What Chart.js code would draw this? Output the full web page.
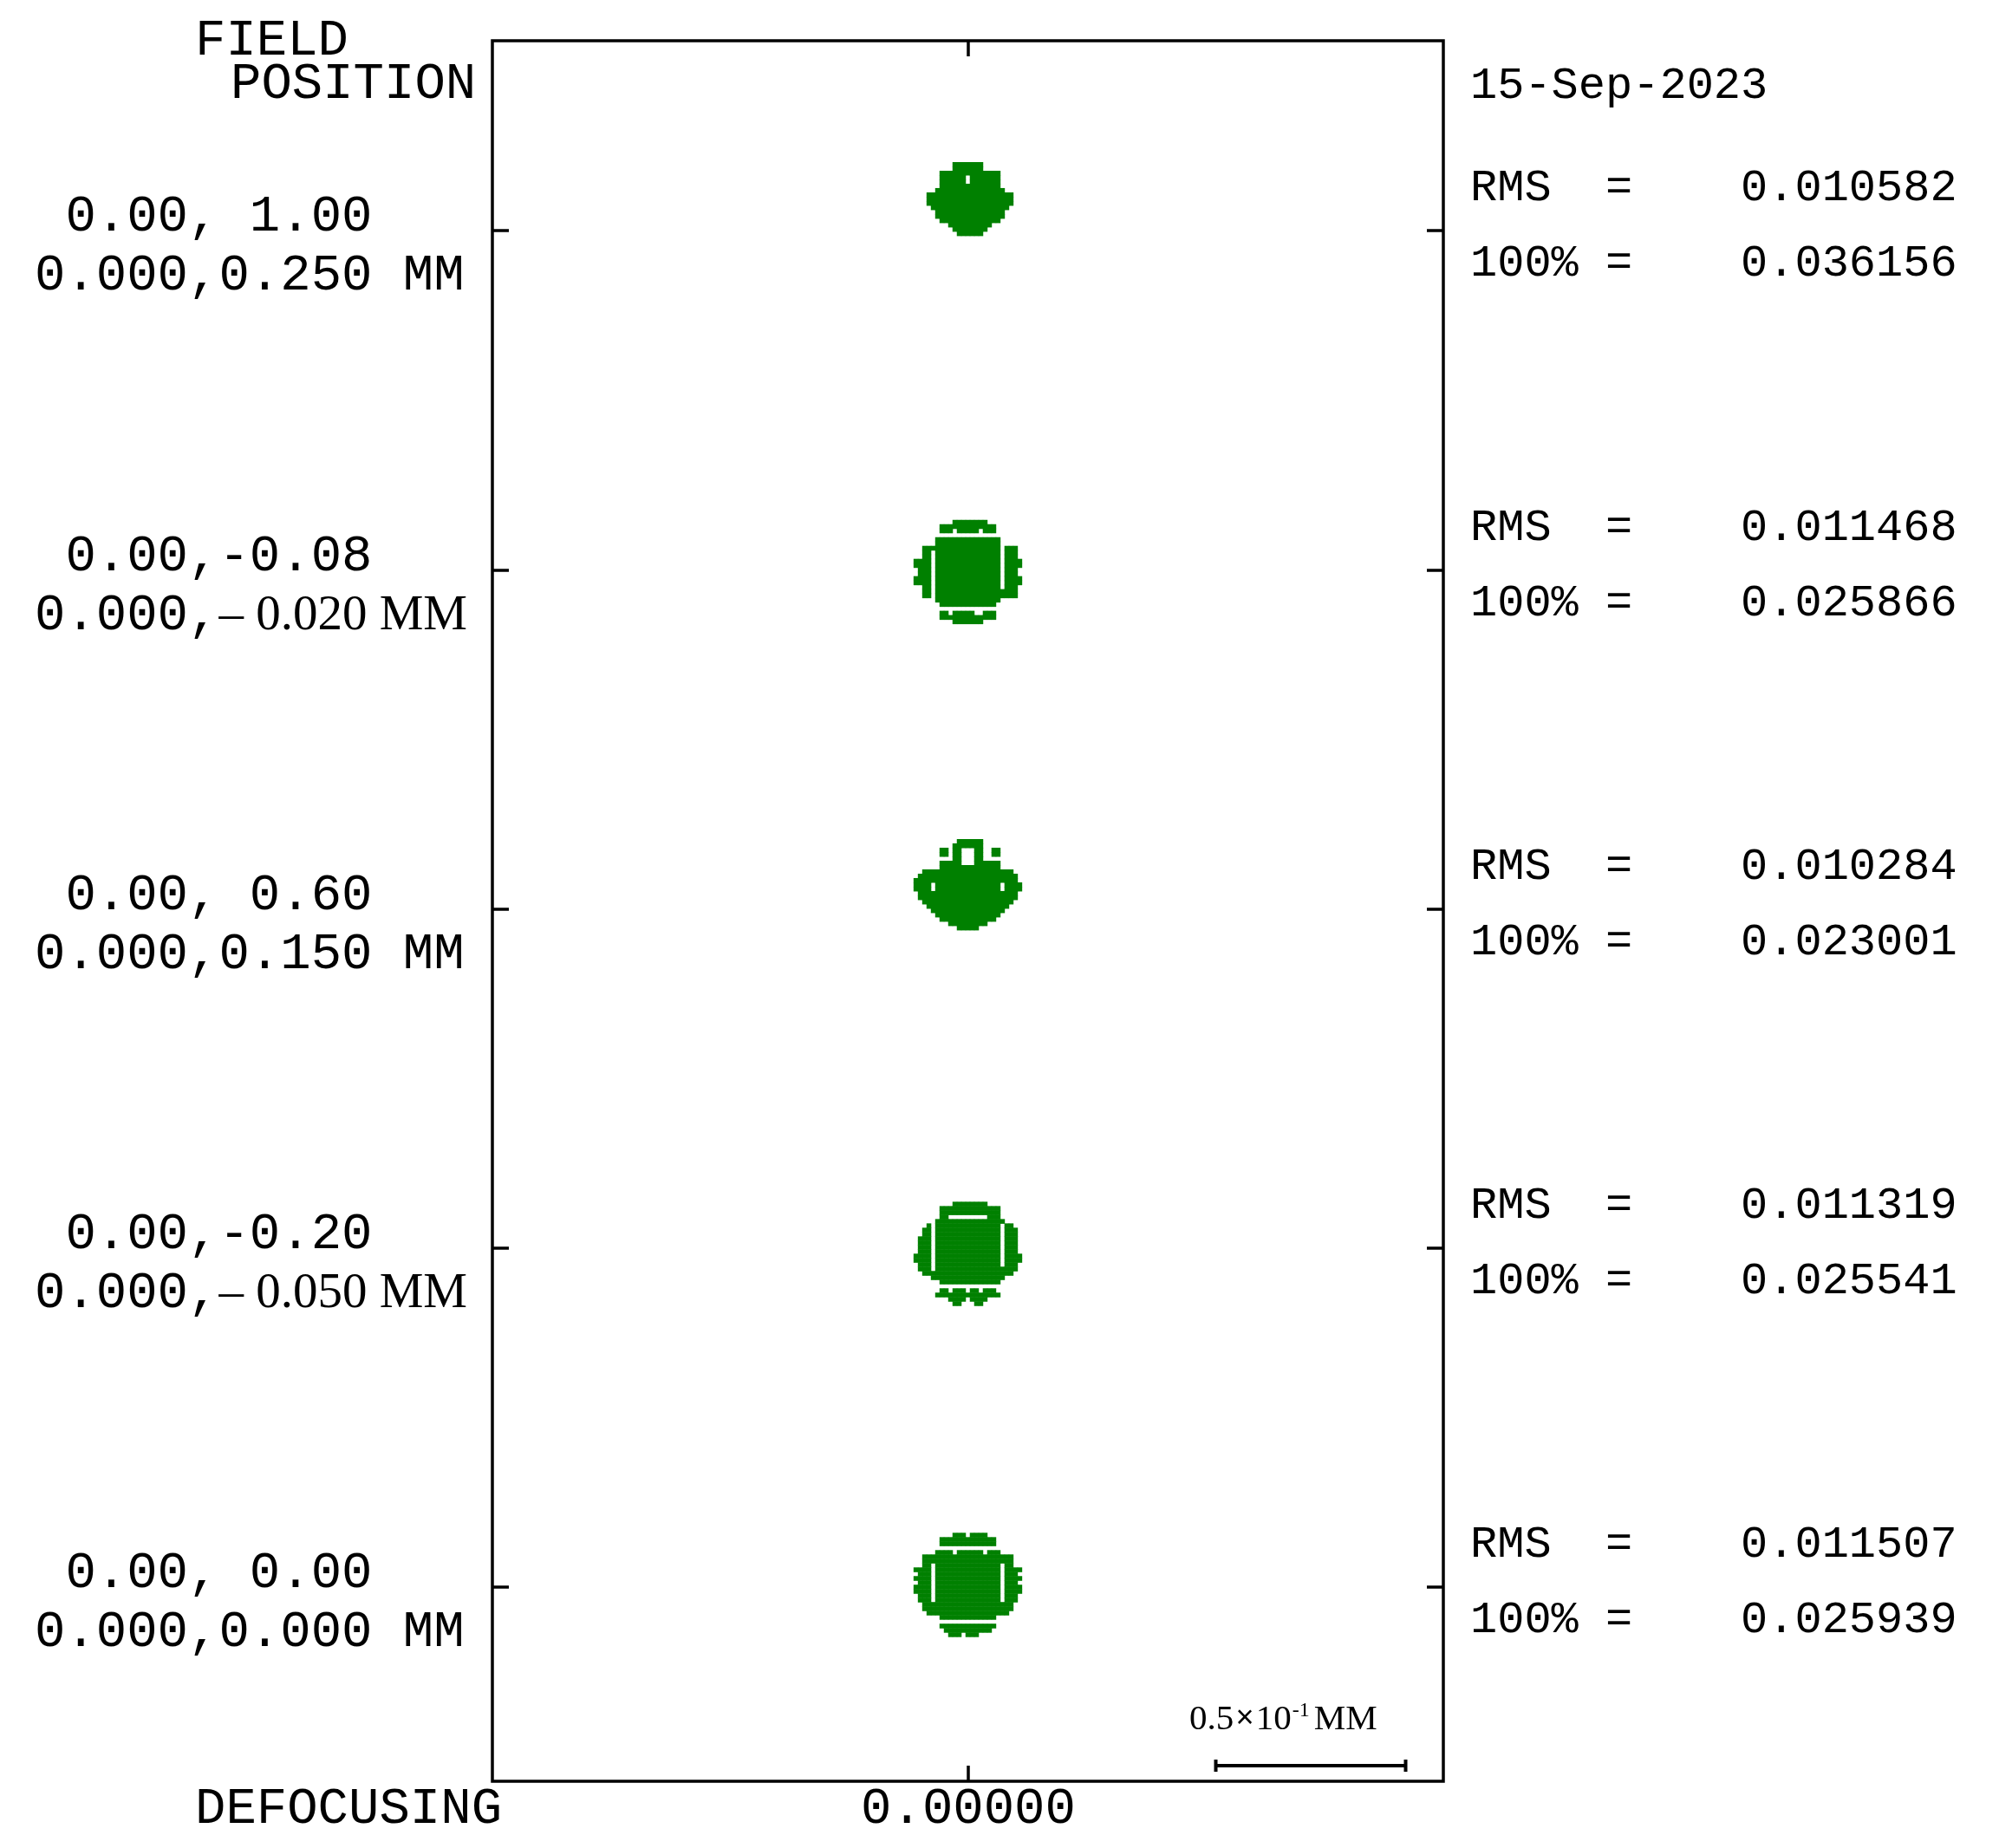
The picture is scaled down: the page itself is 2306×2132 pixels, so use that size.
<!DOCTYPE html>
<html>
<head>
<meta charset="utf-8">
<script src="https://cdn.jsdelivr.net/npm/chart.js@4.4.1/dist/chart.umd.min.js"></script>
<style>
  html, body { margin: 0; padding: 0; background: #fff; }
  #wrap { width: 2306px; height: 2132px; }
</style>
</head>
<body>
<div id="wrap"><canvas id="spotCanvas" width="2306" height="2132"></canvas></div>
<script>
// Field positions (top to bottom) and their image heights
const fieldLabels = [' 0.00, 1.00', ' 0.00,-0.08', ' 0.00, 0.60', ' 0.00,-0.20', ' 0.00, 0.00'];
const imageMono = ['0.000,0.250 MM', '0.000,', '0.000,0.150 MM', '0.000,', '0.000,0.000 MM'];
const imageSerif = ['', '\u2013 0.020 MM', '', '\u2013 0.050 MM', ''];

// Spot statistics printed on the right
const rmsValues = ['0.010582', '0.011468', '0.010284', '0.011319', '0.011507'];
const fullValues = ['0.036156', '0.025866', '0.023001', '0.025541', '0.025939'];
const plotDate = '15-Sep-2023';
const defocusValue = '0.00000';

// Chief ray offset of each spot centre from its field row (mm)
const spotOffsetY = [0.0084, -0.0011, 0.0064, -0.0021, 0.0];

// Spot footprints, one cell per ray pixel
const spot1 = [
  '.........................',
  '.........................',
  '.........................',
  '.........................',
  '.........#######.........',
  '.........#######.........',
  '......##############.....',
  '......######.#######.....',
  '......######.#######.....',
  '......##############.....',
  '.....################....',
  '...####################..',
  '...####################..',
  '...####################..',
  '....##################...',
  '.....################....',
  '.....################....',
  '......##############.....',
  '........##########.......',
  '.........########........',
  '..........######.........'
];
const spot2 = [
  '.........########........',
  '......#############......',
  '......###.#####.###......',
  '.........................',
  '.....###############.....',
  '.....###############.....',
  '..##################.###.',
  '..##.###############.###.',
  '..##.###############.###.',
  '####.###############.####',
  '####.###############.####',
  '.###.###############.###.',
  '.###.###############.###.',
  '####.###############.####',
  '####.###############.####',
  '..##.###############.###.',
  '..##.###################.',
  '..##.###################.',
  '.....###############.....',
  '......#############......',
  '.........................',
  '......##.#####..###......',
  '......#############......',
  '.........#######.........'
];
const spot3 = [
  '.........................',
  '.........................',
  '..........######.........',
  '.........#######.........',
  '......##.##...##..##.....',
  '......##.##...##..##.....',
  '.........##...##.........',
  '......#####...######.....',
  '......##############.....',
  '..#####################..',
  '.#######################.',
  '########################.',
  '####.###############.####',
  '####.###############.####',
  '.#######################.',
  '.#######################.',
  '..#####################..',
  '...###################...',
  '....#################....',
  '.....###############.....',
  '......#############......',
  '........#########........',
  '..........#####..........'
];
const spot4 = [
  '.........########........',
  '......##############.....',
  '......##############.....',
  '......##.........###.....',
  '.....################....',
  '...#.###############.##..',
  '..##.###############.###.',
  '..##.###############.###.',
  '.###.###############.###.',
  '.###.###############.###.',
  '.###.###############.###.',
  '.###.###############.###.',
  '####.###############.####',
  '####.###############.####',
  '.###.###############.###.',
  '.###.###################.',
  '..#####################..',
  '....#################....',
  '......##############.....',
  '.........................',
  '......##.###.##.###......',
  '.....###############.....',
  '........####.####........',
  '.........##...##.........'
];
const spot5 = [
  '.........###.####........',
  '......#############......',
  '......#############......',
  '.........................',
  '.....####.######.###.....',
  '..#####################..',
  '..#####################..',
  '..##.###############.##..',
  '####.###############.####',
  '.###.###############.###.',
  '####.###############.####',
  '.###.###############.###.',
  '####.###############.####',
  '####.###############.####',
  '.###.###############.###.',
  '.###.###############.###.',
  '..#####################..',
  '..#####################..',
  '...###################...',
  '......#############......',
  '.........................',
  '......#############......',
  '.......###########.......',
  '........###.###..........'
];
const spotMaps = [spot1, spot2, spot3, spot4, spot5];

const CELL = 0.00114;      // mm per ray pixel
const ROW_PITCH = 0.0893;  // mm between field rows
const SCALE_BAR = 0.05;    // 0.5x10^-1 MM
const GREEN = 'rgb(0,128,0)';
const MONO = '"Liberation Mono", "DejaVu Sans Mono", monospace';
const SERIF = '"Liberation Serif", "DejaVu Serif", serif';

// value of each field row on the y scale (top row first)
const fieldTicks = fieldLabels.map((_, i) => (fieldLabels.length - 1 - i) * ROW_PITCH);

function spotPoints(rows, centerY) {
  const pts = [];
  rows.forEach((row, r) => {
    for (let c = 0; c < row.length; c++) {
      if (row[c] === '#') pts.push({ x: (c - 12) * CELL, y: centerY + (12 - r) * CELL });
    }
  });
  return pts;
}

const datasets = spotMaps.map((rows, i) => ({
  label: fieldLabels[i],
  data: spotPoints(rows, fieldTicks[i] + spotOffsetY[i]),
  backgroundColor: GREEN,
  borderWidth: 0,
  pointStyle: 'rect',
  pointRadius: 3.9,
  showLine: false
}));

// frame, inward ticks and all the printed text
const spotFrame = {
  id: 'spotFrame',
  afterDraw(chart) {
    const { ctx, chartArea: a, scales: { x, y } } = chart;
    ctx.save();
    ctx.strokeStyle = '#000';
    ctx.lineWidth = 3.5;
    ctx.strokeRect(a.left, a.top, a.right - a.left, a.bottom - a.top);

    ctx.beginPath();
    fieldTicks.forEach(v => {
      const py = Math.round(y.getPixelForValue(v));
      ctx.moveTo(a.left, py); ctx.lineTo(a.left + 19, py);
      ctx.moveTo(a.right, py); ctx.lineTo(a.right - 19, py);
    });
    const cx = Math.round(x.getPixelForValue(0));
    ctx.moveTo(cx, a.top); ctx.lineTo(cx, a.top + 18);
    ctx.moveTo(cx, a.bottom); ctx.lineTo(cx, a.bottom - 18);
    ctx.stroke();

    ctx.fillStyle = '#000';
    ctx.textBaseline = 'alphabetic';
    ctx.textAlign = 'left';

    // left column
    ctx.font = '59px ' + MONO;
    ctx.fillText('FIELD', 225, 63);
    ctx.fillText('POSITION', 266, 113);
    fieldTicks.forEach((v, i) => {
      const py = y.getPixelForValue(v);
      ctx.font = '59px ' + MONO;
      ctx.fillText(fieldLabels[i], 40, py);
      ctx.fillText(imageMono[i], 40, py + 68);
      if (imageSerif[i]) {
        const w = ctx.measureText(imageMono[i]).width;
        ctx.font = '57px ' + SERIF;
        ctx.fillText(imageSerif[i], 40 + w, py + 68);
      }
    });

    // right column
    ctx.font = '52px ' + MONO;
    ctx.fillText(plotDate, 1696, 113);
    fieldTicks.forEach((v, i) => {
      const py = y.getPixelForValue(v);
      ctx.fillText('RMS  =    ' + rmsValues[i], 1696, py - 35);
      ctx.fillText('100% =    ' + fullValues[i], 1696, py + 52);
    });

    // bottom line
    ctx.font = '59px ' + MONO;
    ctx.fillText('DEFOCUSING', 225, 2103);
    ctx.textAlign = 'center';
    ctx.fillText(defocusValue, cx, 2103);

    // scale bar
    const x0 = x.getPixelForValue(0.0653);
    const x1 = x.getPixelForValue(0.0653 + SCALE_BAR);
    const by = 2037;
    ctx.lineWidth = 4;
    ctx.beginPath();
    ctx.moveTo(x0, by); ctx.lineTo(x1, by);
    ctx.moveTo(x0, by - 7); ctx.lineTo(x0, by + 7);
    ctx.moveTo(x1, by - 7); ctx.lineTo(x1, by + 7);
    ctx.stroke();

    ctx.textAlign = 'left';
    let tx = 1372;
    ctx.font = '41px ' + SERIF;
    ctx.fillText('0.5', tx, 1995);
    tx += ctx.measureText('0.5').width + 2;
    ctx.font = '36px ' + MONO;
    ctx.fillText('\u00d7', tx, 1993);
    tx += ctx.measureText('\u00d7').width + 2;
    ctx.font = '41px ' + SERIF;
    ctx.fillText('10', tx, 1995);
    tx += ctx.measureText('10').width;
    ctx.font = '24px ' + SERIF;
    ctx.fillText('-1', tx + 1, 1980);
    tx += ctx.measureText('-1').width + 6;
    ctx.font = '41px ' + SERIF;
    ctx.fillText('MM', tx, 1995);
    ctx.restore();
  }
};

const ctx = document.getElementById('spotCanvas').getContext('2d');
window.spotChart = new Chart(ctx, {
  type: 'scatter',
  data: { datasets },
  options: {
    responsive: false,
    devicePixelRatio: 1,
    animation: false,
    events: [],
    layout: { padding: { left: 568, top: 47, right: 641, bottom: 77 } },
    plugins: { legend: { display: false }, tooltip: { enabled: false } },
    scales: {
      x: { type: 'linear', min: -0.12523, max: 0.12523, display: false },
      y: { type: 'linear', min: -0.05114, max: 0.40731, display: false }
    }
  },
  plugins: [spotFrame]
});
</script>
</body>
</html>
